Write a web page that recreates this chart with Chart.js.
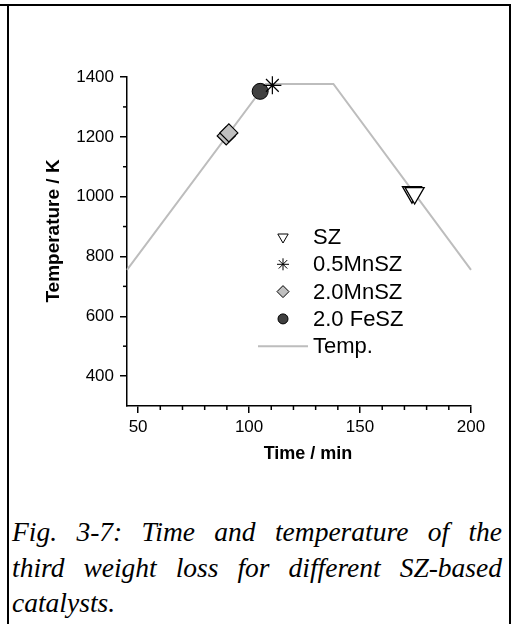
<!doctype html>
<html>
<head>
<title>Third weight loss</title>
<script src="https://cdn.jsdelivr.net/npm/chart.js@4.4.1/dist/chart.umd.min.js"></script>
<style>
body { margin: 0; background: #fff; }
#topline { position: absolute; left: 0; top: 4px; width: 511px; height: 2px; background: #000; }
#frame { position: absolute; left: 7px; top: 4px; width: 500px; height: 640px; border-left: 2px solid #000; border-right: 2px solid #000; }
#wrap { position: absolute; left: 0; top: 0; width: 513px; height: 480px; }
#caption {
	position: absolute; left: 12px; top: 514px; width: 490px;
	font: italic 27.5px "Liberation Serif", "Times New Roman", serif;
	line-height: 35.5px; color: #000;
}
#caption div { text-align: justify; text-align-last: justify; white-space: nowrap; }
#caption div.last { text-align-last: left; }
</style>
</head>
<body>
<div id="topline"></div>
<div id="frame"></div>
<div id="wrap"><canvas id="canvas" width="513" height="480"></canvas></div>
<div id="caption">
	<div>Fig. 3-7: Time and temperature of the</div>
	<div>third weight loss for different SZ-based</div>
	<div class="last">catalysts.</div>
</div>

<script>
// temperature programme (min, K)
var tempTime = [45, 107.5, 138, 200];
var tempK    = [755, 1377, 1377, 755];

// third weight loss per catalyst (min, K)
var szTime     = [173.4, 174.6];  var szK     = [1015, 1012];
var mn05Time   = [110.5];         var mn05K   = [1372];
var mn20Time   = [89.7, 90.9];    var mn20K   = [1203, 1213];
var fe20Time   = [105];           var fe20K   = [1352];

var xTicks = [50, 100, 150, 200];
var xMinor = [60, 70, 80, 90, 110, 120, 130, 140, 160, 170, 180, 190];
var yTicks = [400, 600, 800, 1000, 1200, 1400];
var yMinor = [500, 700, 900, 1100, 1300];

var labels = ['SZ', '0.5MnSZ', '2.0MnSZ', '2.0 FeSZ', 'Temp.'];

function pts(xs, ys) {
	return xs.map(function(x, i) { return {x: x, y: ys[i]}; });
}

var FONT = '"Liberation Sans", Arial, sans-serif';

var datasets = [{
	label: labels[0], data: pts(szTime, szK),
	pointStyle: 'triangle', rotation: 180, pointRadius: 11,
	backgroundColor: '#fff', borderColor: '#000', borderWidth: 1.3, clip: false
}, {
	label: labels[1], data: pts(mn05Time, mn05K),
	pointStyle: 'star', pointRadius: 9,
	backgroundColor: '#000', borderColor: '#000', borderWidth: 1.2, clip: false
}, {
	label: labels[2], data: pts(mn20Time, mn20K),
	pointStyle: 'rectRot', pointRadius: 9,
	backgroundColor: '#c0c0c0', borderColor: '#000', borderWidth: 1.2, clip: false
}, {
	label: labels[3], data: pts(fe20Time, fe20K),
	pointStyle: 'circle', pointRadius: 8,
	backgroundColor: '#404040', borderColor: '#000', borderWidth: 1, clip: false
}, {
	label: labels[4], data: pts(tempTime, tempK),
	showLine: true, pointRadius: 0, borderColor: '#bdbdbd', borderWidth: 2,
	fill: false, clip: false
}];

// legend sizes are smaller than the marks on the plot
var legendRadius = [6, 6, 6, 5];

var extras = {
	id: 'extras',
	afterDraw: function(chart) {
		var ctx = chart.ctx, xs = chart.scales.x, ys = chart.scales.y, a = chart.chartArea;
		ctx.save();
		ctx.strokeStyle = '#000';
		ctx.lineWidth = 1.5;
		xMinor.forEach(function(v) {
			var p = xs.getPixelForValue(v);
			ctx.beginPath(); ctx.moveTo(p, a.bottom); ctx.lineTo(p, a.bottom + 4); ctx.stroke();
		});
		yMinor.forEach(function(v) {
			var p = ys.getPixelForValue(v);
			ctx.beginPath(); ctx.moveTo(a.left, p); ctx.lineTo(a.left - 4, p); ctx.stroke();
		});

		// axis titles
		ctx.fillStyle = '#000';
		ctx.font = 'bold 18px ' + FONT;
		ctx.textAlign = 'center';
		ctx.textBaseline = 'middle';
		ctx.fillText('Time / min', (a.left + a.right) / 2 + 9, a.bottom + 48);
		ctx.save();
		ctx.font = 'bold 19px ' + FONT;
		ctx.translate(a.left - 73, 231);
		ctx.rotate(-Math.PI / 2);
		ctx.fillText('Temperature / K', 0, 0);
		ctx.restore();

		// legend inside the plot
		var lx = a.left + 156, tx = a.left + 186, ly = a.top + 160, step = 27.3;
		ctx.font = '22px ' + FONT;
		ctx.textAlign = 'left';
		for (var i = 0; i < datasets.length; i++) {
			var d = datasets[i], y = ly + i * step;
			if (d.showLine) {
				ctx.strokeStyle = d.borderColor;
				ctx.lineWidth = d.borderWidth;
				ctx.beginPath(); ctx.moveTo(lx - 25, y); ctx.lineTo(lx + 25, y); ctx.stroke();
			} else {
				ctx.fillStyle = d.backgroundColor;
				ctx.strokeStyle = d.borderColor;
				ctx.lineWidth = 1;
				Chart.helpers.drawPoint(ctx, {
					pointStyle: d.pointStyle, rotation: d.rotation || 0,
					radius: legendRadius[i], borderWidth: 1
				}, lx, y);
			}
			ctx.fillStyle = '#000';
			ctx.fillText(d.label, tx, y + 1);
		}
		ctx.restore();
	}
};

function plain(v) { return String(v); }

var ctx = document.getElementById('canvas').getContext('2d');
window.myChart = new Chart(ctx, {
	type: 'scatter',
	data: { datasets: datasets },
	plugins: [extras],
	options: {
		responsive: false,
		animation: false,
		layout: { padding: { left: 0, top: 77, right: 42, bottom: 0 } },
		plugins: { legend: { display: false }, tooltip: { enabled: false } },
		scales: {
			x: {
				type: 'linear', min: 45, max: 200,
				afterBuildTicks: function(s) { s.ticks = xTicks.map(function(v) { return {value: v}; }); },
				afterFit: function(s) { s.height = 74; },
				border: { color: '#000', width: 1.5 },
				grid: { drawOnChartArea: false, color: '#000', lineWidth: 1.5, tickLength: 7 },
				ticks: { color: '#000', font: { family: FONT, size: 17 }, padding: 4, maxRotation: 0, callback: plain }
			},
			y: {
				type: 'linear', min: 300, max: 1400,
				afterBuildTicks: function(s) { s.ticks = yTicks.map(function(v) { return {value: v}; }); },
				afterFit: function(s) { s.width = 127; },
				border: { color: '#000', width: 1.5 },
				grid: { drawOnChartArea: false, color: '#000', lineWidth: 1.5, tickLength: 7 },
				ticks: { color: '#000', font: { family: FONT, size: 17 }, padding: 6, callback: plain }
			}
		}
	}
});
</script>
</body>
</html>
